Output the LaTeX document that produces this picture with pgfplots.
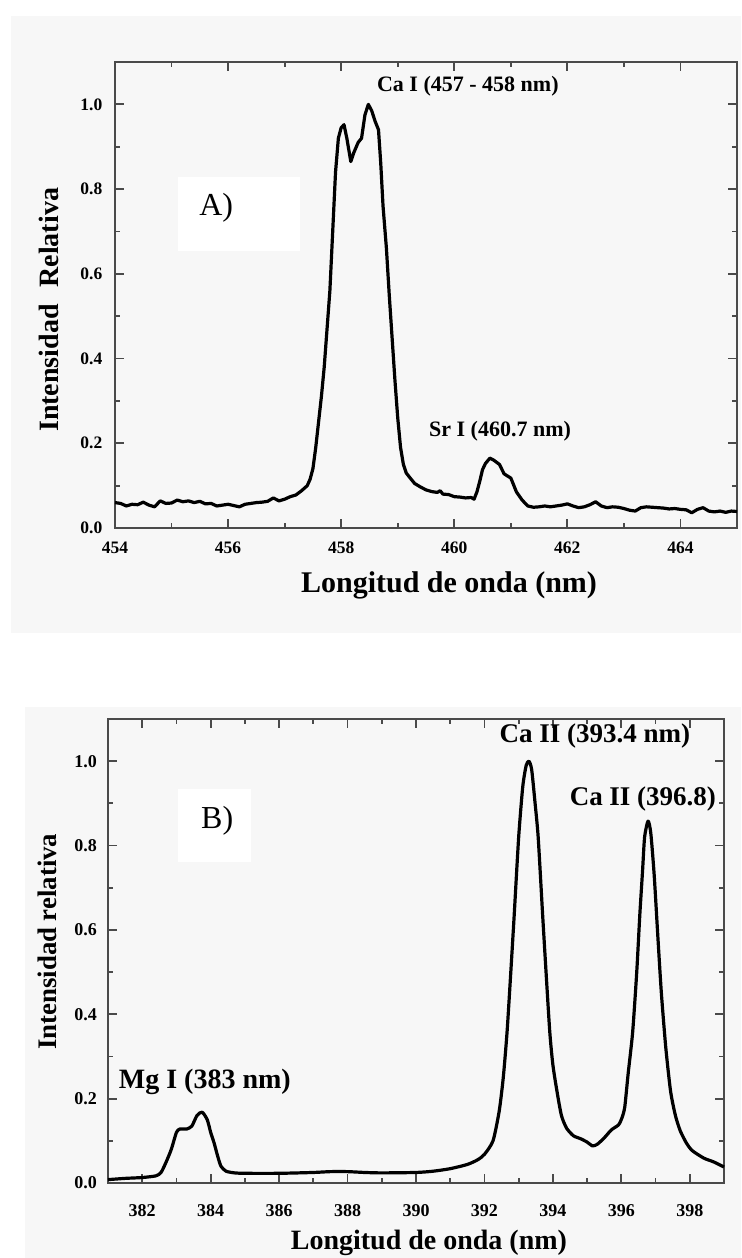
\documentclass[border=0pt]{standalone}
\usepackage{fontspec}
\setmainfont{Liberation Serif}
\usepackage{pgfplots}
\pgfplotsset{compat=1.18}
\definecolor{axgray}{HTML}{4A4A4A}
\definecolor{bggray}{HTML}{F7F7F7}

\pgfplotstableread{
x y
454.0 0.060
454.1 0.058
454.2 0.052
454.3 0.056
454.4 0.055
454.5 0.061
454.6 0.054
454.7 0.050
454.8 0.064
454.9 0.058
455.0 0.059
455.1 0.066
455.2 0.062
455.3 0.064
455.4 0.060
455.5 0.063
455.6 0.057
455.7 0.058
455.8 0.052
455.9 0.054
456.0 0.056
456.1 0.053
456.2 0.050
456.3 0.056
456.4 0.058
456.5 0.060
456.6 0.061
456.7 0.063
456.8 0.071
456.9 0.064
457.0 0.068
457.1 0.074
457.2 0.078
457.3 0.088
457.4 0.100
457.45 0.115
457.5 0.14
457.55 0.19
457.6 0.25
457.65 0.31
457.7 0.38
457.75 0.47
457.8 0.56
457.85 0.70
457.9 0.84
457.95 0.92
458.0 0.945
458.05 0.952
458.1 0.92
458.17 0.865
458.22 0.885
458.3 0.91
458.36 0.92
458.42 0.975
458.48 1.0
458.54 0.985
458.6 0.96
458.66 0.94
458.7 0.86
458.74 0.76
458.8 0.66
458.85 0.55
458.9 0.45
458.95 0.35
459.0 0.26
459.05 0.19
459.1 0.15
459.15 0.13
459.22 0.118
459.3 0.105
459.4 0.097
459.5 0.090
459.6 0.086
459.7 0.084
459.75 0.088
459.8 0.080
459.9 0.079
460.0 0.074
460.1 0.073
460.2 0.071
460.3 0.072
460.35 0.068
460.4 0.085
460.45 0.11
460.5 0.138
460.55 0.152
460.63 0.165
460.7 0.160
460.8 0.150
460.88 0.128
460.95 0.122
461.0 0.118
461.1 0.085
461.2 0.066
461.3 0.052
461.4 0.049
461.5 0.050
461.6 0.052
461.7 0.050
461.8 0.052
461.9 0.054
462.0 0.057
462.1 0.052
462.2 0.048
462.3 0.050
462.4 0.055
462.5 0.062
462.6 0.052
462.7 0.048
462.8 0.050
462.9 0.049
463.0 0.046
463.1 0.042
463.2 0.040
463.3 0.048
463.4 0.050
463.5 0.049
463.6 0.048
463.7 0.047
463.8 0.045
463.9 0.046
464.0 0.044
464.1 0.043
464.2 0.036
464.3 0.044
464.4 0.048
464.5 0.040
464.6 0.038
464.7 0.040
464.8 0.037
464.9 0.040
465.0 0.039
}\dataA

\pgfplotstableread{
x y
381.0 0.008
381.5 0.011
382.0 0.013
382.4 0.017
382.55 0.025
382.7 0.05
382.85 0.08
383.0 0.12
383.1 0.128
383.3 0.128
383.45 0.135
383.6 0.16
383.75 0.168
383.9 0.15
384.0 0.12
384.1 0.095
384.2 0.065
384.3 0.04
384.45 0.028
384.7 0.024
385.0 0.023
386.0 0.023
387.0 0.025
387.5 0.027
388.0 0.027
388.5 0.025
389.0 0.024
390.0 0.025
390.5 0.028
391.0 0.034
391.5 0.044
391.8 0.055
392.0 0.068
392.25 0.10
392.43 0.17
392.55 0.25
392.66 0.357
392.77 0.5
392.87 0.636
393.0 0.82
393.12 0.94
393.22 0.99
393.3 1.0
393.38 0.98
393.48 0.9
393.57 0.82
393.70 0.636
393.8 0.5
393.91 0.357
394.0 0.28
394.12 0.217
394.25 0.16
394.4 0.13
394.6 0.112
394.81 0.105
395.0 0.097
395.16 0.088
395.3 0.092
395.5 0.107
395.71 0.126
395.92 0.138
396.02 0.155
396.1 0.18
396.2 0.26
396.33 0.357
396.45 0.5
396.54 0.636
396.62 0.74
396.68 0.82
396.78 0.858
396.86 0.83
396.96 0.73
397.07 0.58
397.17 0.45
397.3 0.32
397.44 0.217
397.58 0.16
397.72 0.124
397.9 0.095
398.07 0.077
398.41 0.059
398.7 0.05
399.0 0.038
}\dataB

\pgfplotsset{
  spec/.style={
    scale only axis,
    axis line style={axgray, line width=1.2pt},
    every tick/.style={axgray, line width=0.9pt},
    major tick length=4.5pt,
    minor tick length=2.5pt,
    tick align=inside,
    minor tick num=1,
    ymin=0, ymax=1.1,
    ytick={0,0.2,0.4,0.6,0.8,1.0},
    /pgf/number format/assume math mode=true,
    yticklabel={\pgfmathprintnumber[fixed,fixed zerofill,precision=1]{\tick}},
    xticklabel={\pgfmathprintnumber[fixed,precision=0,1000 sep={}]{\tick}},
    clip=false,
  }
}

\begin{document}
\begin{tikzpicture}
\path[use as bounding box] (0,0) rectangle (370.5pt,-629pt);
\fill[bggray] (5.5pt,-8pt) rectangle (370.5pt,-316.5pt);
\fill[bggray] (12.5pt,-353.5pt) rectangle (370.5pt,-629pt);

\begin{axis}[spec,
  at={(57.5pt,-264pt)}, anchor=south west,
  width=311pt, height=233pt,
  xmin=454, xmax=465,
  xtick={454,456,458,460,462,464},
  tick label style={font=\bfseries\fontsize{8.75}{10}\selectfont},
  xticklabel style={yshift=-3.5pt},
  yticklabel style={xshift=-2.8pt},
  xlabel={Longitud de onda (nm)},
  xlabel style={font=\bfseries\fontsize{15}{17}\selectfont, at={(axis description cs:0.537,-0.124)}, anchor=center},
  ylabel={Intensidad\hspace{0.6em}Relativa},
  ylabel style={font=\bfseries\fontsize{14}{16}\selectfont, at={(axis description cs:-0.106,0.468)}, anchor=center},
]
\fill[white] (axis cs:455.11,0.655) rectangle (axis cs:457.27,0.829);
\addplot[black, line width=1.6pt, line join=round] table[x=x,y=y] {\dataA};
\node[font=\bfseries\fontsize{11}{13}\selectfont] at (axis cs:460.24,1.043) {Ca I (457 - 458 nm)};
\node[font=\bfseries\fontsize{11}{13}\selectfont] at (axis cs:460.81,0.229) {Sr I (460.7 nm)};
\node[font=\fontsize{16}{18}\selectfont] at (axis cs:455.79,0.755) {A)};
\end{axis}

\begin{axis}[spec,
  at={(54pt,-591.5pt)}, anchor=south west,
  width=308pt, height=232pt,
  xmin=381, xmax=399,
  xtick={382,384,386,388,390,392,394,396,398},
  tick label style={font=\bfseries\fontsize{9}{10}\selectfont},
  xticklabel style={yshift=-7pt},
  yticklabel style={xshift=-2pt},
  xlabel={Longitud de onda (nm)},
  xlabel style={font=\bfseries\fontsize{14}{16}\selectfont, at={(axis description cs:0.521,-0.129)}, anchor=center},
  ylabel={Intensidad relativa},
  ylabel style={font=\bfseries\fontsize{13.4}{15}\selectfont, at={(axis description cs:-0.099,0.52)}, anchor=center},
]
\fill[white] (axis cs:383.05,0.761) rectangle (axis cs:385.18,0.934);
\addplot[black, line width=1.6pt, smooth, tension=0.4, line join=round] table[x=x,y=y] {\dataB};
\node[font=\bfseries\fontsize{13.5}{15}\selectfont] at (axis cs:395.23,1.059) {Ca II (393.4 nm)};
\node[font=\bfseries\fontsize{13.5}{15}\selectfont] at (axis cs:396.63,0.91) {Ca II (396.8)};
\node[font=\bfseries\fontsize{14}{16}\selectfont] at (axis cs:383.83,0.239) {Mg I (383 nm)};
\node[font=\fontsize{16}{18}\selectfont] at (axis cs:384.19,0.858) {B)};
\end{axis}
\end{tikzpicture}
\end{document}
